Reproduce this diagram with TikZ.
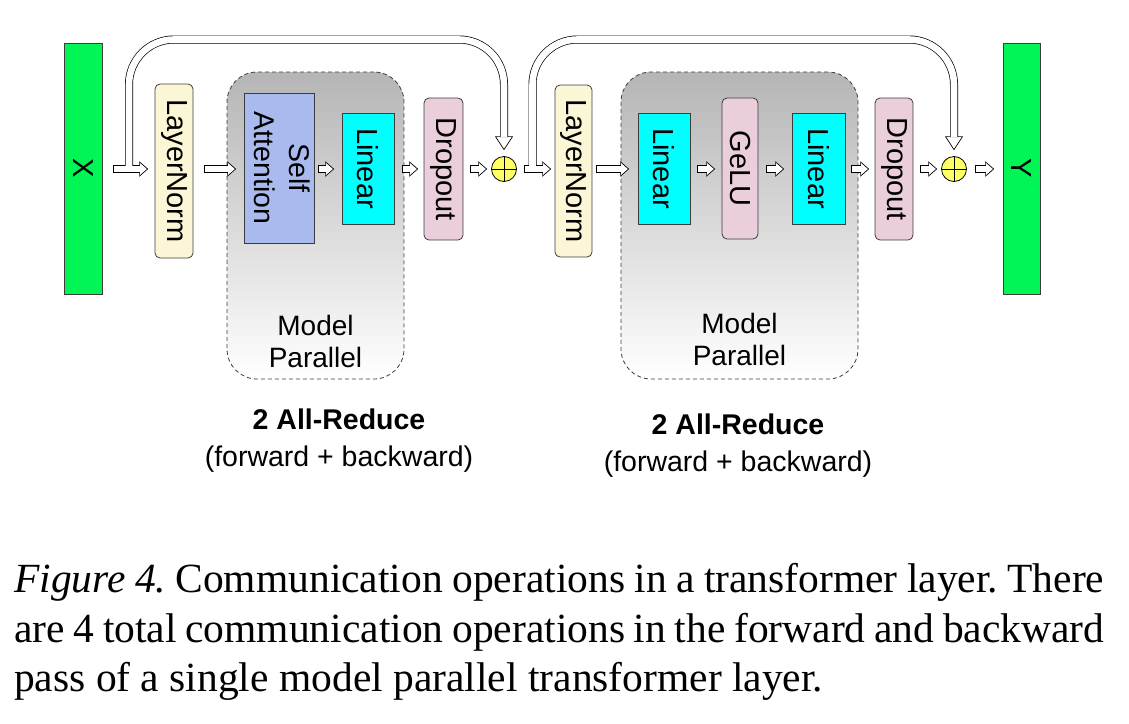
\documentclass[tikz,border=0pt]{standalone}
\usepackage{fontspec}
\setmainfont{Liberation Serif}
\newfontfamily\arial{Liberation Sans}
\usepackage{graphicx}
\usetikzlibrary{calc}
\definecolor{grn}{RGB}{0,245,85}
\definecolor{cream}{RGB}{251,246,214}
\definecolor{peri}{RGB}{169,186,238}
\definecolor{cyn}{RGB}{0,255,255}
\definecolor{pnk}{RGB}{234,206,220}
\definecolor{yel}{RGB}{255,255,102}
\definecolor{edge}{RGB}{60,60,60}
\frenchspacing
\begin{document}
\begin{tikzpicture}[x=1pt,y=-1pt,
  box/.style={draw=edge, line width=0.8pt, inner sep=0pt, font=\arial\fontsize{29}{35}\selectfont},
  sharpbox/.style={box},
  roundbox/.style={box, rounded corners=5pt},
  adder/.style={circle, draw=black, line width=0.8pt, fill=yel, minimum size=25pt, inner sep=0pt,
    path picture={\draw[line width=0.8pt] (path picture bounding box.north) -- (path picture bounding box.south)
      (path picture bounding box.west) -- (path picture bounding box.east);}},
  fwd/.style={draw=black, fill=white, line width=0.7pt, line join=miter,
    to path={let \p1=(\tikztostart), \p2=(\tikztotarget) in
      (\x1,\y1+3.5pt) -- (\x2-8pt,\y1+3.5pt) -- (\x2-8pt,\y1+7pt) -- (\x2,\y1)
      -- (\x2-8pt,\y1-7pt) -- (\x2-8pt,\y1-3.5pt) -- (\x1,\y1-3.5pt) -- cycle}},
  resid/.style={draw=black, line width=0.7pt, double=white, double distance=6.6pt, rounded corners=45pt},
  rhead/.style={draw=black, fill=white, line width=0.7pt, line join=miter},
  mp/.style={draw=edge, dash pattern=on 4pt off 3pt, line width=0.8pt, rounded corners=30pt,
    top color=black!29, middle color=black!8, bottom color=white, inner sep=0pt},
  lbl/.style={font=\arial\fontsize{28}{32}\selectfont, align=center, inner sep=0pt},
  red2/.style={font=\arial\fontsize{28.5}{37}\selectfont, align=center, inner sep=0pt},
  captext/.style={font=\fontsize{41.5}{49}\selectfont, anchor=base west, inner sep=0pt},
]
\useasboundingbox (0,0) rectangle (1129,723);

% model parallel regions
\node[mp, minimum width=177pt, minimum height=307pt] (mp1) at (315.5,225.5) {};
\node[mp, minimum width=237pt, minimum height=307pt] (mp2) at (739.5,225.5) {};

% blocks
\node[sharpbox, fill=grn, minimum width=38pt, minimum height=251pt] (x) at (83,168.5) {\rotatebox{-90}{X}};
\node[roundbox, fill=cream, minimum width=38pt, minimum height=174pt] (ln1) at (174,171) {\rotatebox{-90}{LayerNorm}};
\node[sharpbox, fill=peri, minimum width=66pt, minimum height=150pt, font=\arial\fontsize{28.5}{35}\selectfont] (sa) at (279,168)
  {\rotatebox{-90}{\begin{tabular}{@{}c@{}}Self\\Attention\end{tabular}}};
\node[sharpbox, fill=cyn, minimum width=52pt, minimum height=111pt] (lin1) at (368,168.5) {\rotatebox{-90}{Linear}};
\node[roundbox, fill=pnk, minimum width=39pt, minimum height=142pt] (dr1) at (443.5,169) {\rotatebox{-90}{Dropout}};
\node[adder] (add1) at (504,169) {};
\node[roundbox, fill=cream, minimum width=37pt, minimum height=172pt] (ln2) at (573.5,171) {\rotatebox{-90}{LayerNorm}};
\node[sharpbox, fill=cyn, minimum width=52pt, minimum height=111pt] (lin2) at (664,168.5) {\rotatebox{-90}{Linear}};
\node[roundbox, fill=pnk, minimum width=36pt, minimum height=141pt] (gelu) at (740,168.5) {\rotatebox{-90}{GeLU}};
\node[sharpbox, fill=cyn, minimum width=53pt, minimum height=111pt] (lin3) at (818.5,168.5) {\rotatebox{-90}{Linear}};
\node[roundbox, fill=pnk, minimum width=38pt, minimum height=142pt] (dr2) at (894,169) {\rotatebox{-90}{Dropout}};
\node[adder] (add2) at (954,169) {};
\node[sharpbox, fill=grn, minimum width=37pt, minimum height=251pt] (y) at (1021.5,168.5) {\rotatebox{-90}{Y}};

% forward arrows
\draw[fwd] ([xshift=11pt]x.east |- add1) to ([xshift=-7pt]ln1.west |- add1);
\draw[fwd] ([xshift=11pt]ln1.east |- add1) to ([xshift=-8pt]sa.west |- add1);
\draw[fwd] ([xshift=4pt]sa.east |- add1) to ([xshift=-8pt]lin1.west |- add1);
\draw[fwd] ([xshift=8pt]lin1.east |- add1) to ([xshift=-6pt]dr1.west |- add1);
\draw[fwd] ([xshift=7pt]dr1.east |- add1) to ([xshift=-4.5pt]add1.west);
\draw[fwd] ([xshift=7.5pt]add1.east) to ([xshift=-4pt]ln2.west |- add1);
\draw[fwd] ([xshift=4pt]ln2.east |- add1) to ([xshift=-9pt]lin2.west |- add1);
\draw[fwd] ([xshift=7pt]lin2.east |- add1) to ([xshift=-7pt]gelu.west |- add1);
\draw[fwd] ([xshift=8pt]gelu.east |- add1) to ([xshift=-8pt]lin3.west |- add1);
\draw[fwd] ([xshift=6pt]lin3.east |- add1) to ([xshift=-6pt]dr2.west |- add1);
\draw[fwd] ([xshift=7pt]dr2.east |- add1) to ([xshift=-4.5pt]add2.west);
\draw[fwd] ([xshift=8.5pt]add2.east) to ([xshift=-9pt]y.west |- add2);

% residual connections
\coordinate (top) at (0,39.5);
\coordinate (r1s) at (129,165.8);
\coordinate (r2s) at (532.5,165.8);
\coordinate (t1) at ($(add1.north)+(0,-6.5)$);
\coordinate (t2) at ($(add2.north)+(0,-6.5)$);
\draw[rhead] ($(t1)+(-8.5,-13)$) -- ($(t1)+(8.5,-13)$) -- (t1) -- cycle;
\draw[rhead] ($(t2)+(-8.5,-13)$) -- ($(t2)+(8.5,-13)$) -- (t2) -- cycle;
\draw[resid] (r1s) |- (add1.north |- top) -- ($(t1)+(0,-12.5)$);
\draw[resid] (r2s) |- (add2.north |- top) -- ($(t2)+(0,-12.5)$);

% labels
\node[lbl] (mpl1) at (315.5,341) {Model\\Parallel};
\node[lbl] (mpl2) at (739.5,339) {Model\\Parallel};
\node[red2] (ar1) at (339,440.5) {\textbf{2 All-Reduce}\\(forward + backward)};
\node[red2] (ar2) at (738,445.5) {\textbf{2 All-Reduce}\\(forward + backward)};

% caption
\node[captext] (c1) at (14,592) {\makebox[1090pt][s]{\textit{Figure 4.} Communication operations in a transformer layer. There}};
\node[captext] (c2) at (14,642) {\makebox[1090pt][s]{are 4 total communication operations in the forward and backward}};
\node[captext] (c3) at (14,691) {pass of a single model parallel transformer layer.};
\end{tikzpicture}
\end{document}
